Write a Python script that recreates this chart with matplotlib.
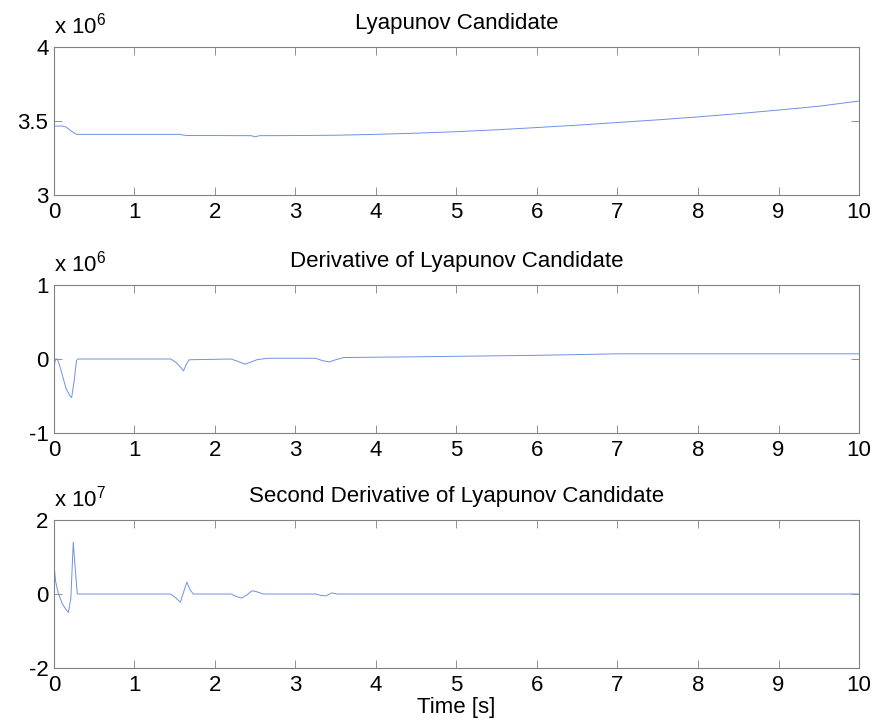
import matplotlib.pyplot as plt
from matplotlib.ticker import FuncFormatter

plt.rcParams['font.family'] = ['Liberation Sans', 'DejaVu Sans']
plt.rcParams['mathtext.fontset'] = 'custom'
plt.rcParams['mathtext.rm'] = 'Liberation Sans'
plt.rcParams['mathtext.it'] = 'Liberation Sans'

# Lyapunov candidate V(t), units of 1e6
t_v = [0, 0.1, 0.15, 0.22, 0.28, 1.0, 1.55, 1.65, 2.0, 2.45, 2.5, 2.55, 3.0, 3.5,
       4.0, 4.5, 5.0, 5.5, 6.0, 6.5, 7.0, 7.5, 8.0, 8.5, 9.0, 9.5, 10]
v = [3.466, 3.466, 3.46, 3.43, 3.41, 3.41, 3.41, 3.402, 3.402, 3.401, 3.393, 3.401,
     3.402, 3.404, 3.41, 3.418, 3.428, 3.441, 3.456, 3.472, 3.49, 3.508, 3.528,
     3.55, 3.574, 3.6, 3.635]

# derivative, units of 1e6
t_dv = [0, 0.01, 0.02, 0.04, 0.06, 0.1, 0.15, 0.2, 0.22, 0.25, 0.28, 0.3, 1.45,
        1.52, 1.58, 1.61, 1.64, 1.68, 2.2, 2.28, 2.37, 2.45, 2.52, 2.65, 3.25,
        3.33, 3.42, 3.5, 3.6, 4.5, 6.0, 7.0, 10]
dv = [-0.15, -0.05, 0.0, 0.0, -0.05, -0.2, -0.4, -0.5, -0.52, -0.3, -0.02, 0.0, 0.0,
      -0.05, -0.12, -0.16, -0.08, -0.01, 0.0, -0.03, -0.07, -0.04, -0.01, 0.01,
      0.01, -0.02, -0.04, -0.01, 0.02, 0.03, 0.05, 0.07, 0.07]

# second derivative, units of 1e7
t_ddv = [0, 0.005, 0.02, 0.05, 0.1, 0.15, 0.18, 0.21, 0.24, 0.26, 0.29, 0.3, 1.45,
         1.51, 1.57, 1.61, 1.65, 1.69, 1.73, 2.2, 2.27, 2.33, 2.4, 2.46, 2.52,
         2.6, 3.25, 3.32, 3.38, 3.45, 3.52, 10]
ddv = [-2.5, 0.7, 0.35, 0.05, -0.25, -0.42, -0.5, -0.1, 1.4, 0.8, 0.0, 0.0, 0.0,
       -0.1, -0.22, 0.05, 0.32, 0.12, 0.0, 0.0, -0.07, -0.11, -0.02, 0.09, 0.06,
       0.0, 0.0, -0.04, -0.05, 0.03, 0.0, 0.0]

titles = ['Lyapunov Candidate', 'Derivative of Lyapunov Candidate',
          'Second Derivative of Lyapunov Candidate']
exps = ['6', '6', '7']
ylims = [(3, 4), (-1, 1), (-2, 2)]
yticks = [[3, 3.5, 4], [-1, 0, 1], [-2, 0, 2]]
xticks = list(range(0, 11))

fig = plt.figure(figsize=(8.76, 7.28), dpi=100)
left, width, height = 0.0616, 0.919, 0.2033
bottoms = [0.7321, 0.4052, 0.0824]

series = [(t_v, v), (t_dv, dv), (t_ddv, ddv)]
line_color = '#7090e8'
fs = 16

for i in range(3):
    ax = fig.add_axes([left, bottoms[i], width, height])
    x, y = series[i]
    ax.plot(x, y, color=line_color, lw=0.7)
    ax.set_xlim(0, 10)
    ax.set_ylim(*ylims[i])
    ax.set_xticks(xticks)
    ax.set_yticks(yticks[i])
    ax.yaxis.set_major_formatter(FuncFormatter(lambda val, pos: '%g' % val))
    ax.tick_params(direction='in', top=True, right=True, length=6, width=0.6,
                   color='#808080', labelsize=fs, pad=5)
    ax.tick_params(axis='y', pad=4)
    for s in ax.spines.values():
        s.set_color('#808080')
        s.set_linewidth(0.8)
    ax.set_title(titles[i], fontsize=fs, pad=13)
    ax.annotate('x 10$^{%s}$' % exps[i], xy=(0, 1), xycoords='axes fraction',
                xytext=(0, 10), textcoords='offset points',
                fontsize=fs, ha='left', va='baseline')

ax.set_xlabel('Time [s]', fontsize=fs, labelpad=1)

fig.savefig('out.png', dpi=100)
